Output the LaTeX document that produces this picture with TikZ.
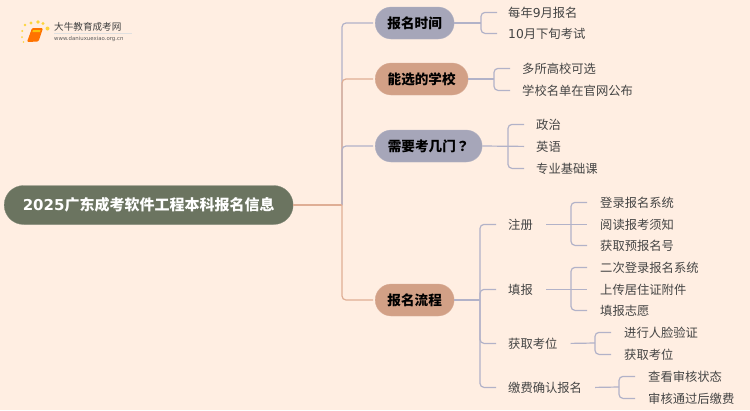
\documentclass[tikz,border=0pt]{standalone}
\usepackage{fontspec}
\setmainfont{Noto Sans CJK SC}
\newfontfamily\latf{DejaVu Sans}
\newfontfamily\tcf{Noto Sans CJK TC}
\definecolor{bgc}{HTML}{FFEEE2}
\definecolor{rootc}{HTML}{6B7460}
\definecolor{bluec}{HTML}{A6A6B9}
\definecolor{orgc}{HTML}{D2A086}
\definecolor{lnb}{HTML}{B2B2C8}
\definecolor{lno}{HTML}{DFAE95}
\definecolor{txtc}{HTML}{444444}
\tikzset{
  x=1bp,y=-1bp,
  leaf/.style={anchor=west,inner sep=0pt,yshift=-0.4bp,text=txtc,font=\fontsize{12.3bp}{14bp}\selectfont},
  pill/.style={rounded corners=16bp,minimum height=32bp,inner sep=0pt,anchor=west,text=black,line width=0.3bp,font=\fontsize{13.6bp}{16bp}\selectfont\bfseries},
  conb/.style={draw=lnb,line width=1.2bp,rounded corners=4bp},
  cono/.style={draw=lno,line width=1.2bp,rounded corners=4bp},
}
\begin{document}
\begin{tikzpicture}
\fill[bgc] (0,0) rectangle (750,410);
\useasboundingbox (0,0) rectangle (750,410);
% logo
\foreach \a/\b/\r in {25/25/1.4,31/23/1.7,38/22/1.8,43/23.5/1.7,47.5/28.5/2,22.3/31/1.1,22/37/1,23.5/42/.9}
  \fill[yellow!65!orange,opacity=.75] (\a,\b) circle (\r);
\fill[orange!90!red,rounded corners=1.2bp] (32,28) -- (43,28) -- (38.5,41.5) -- (27,42) -- cycle;
\fill[yellow!55!orange] (33,30) -- (40.5,30) -- (40,32) -- (32.4,32) -- cycle;
\draw[black!12,line width=.5bp] (54,33.5) -- (132,33.5);
\node[anchor=west,inner sep=0pt,text=black!75] (logot) at (54,27) {\fontsize{9.6bp}{11bp}\selectfont 大牛教育成考网};
\node[anchor=west,inner sep=0pt,text=black!65] (logou) at (54,39) {\latf\fontsize{5.4bp}{7bp}\selectfont www.daniuxuexiao.org.cn};
% root and branches
\node[fill=rootc,draw=rootc!85!white,line width=0.3bp,rounded corners=19.5bp,minimum width=289bp,minimum height=39bp,inner sep=0pt,anchor=west,text=white,font=\fontsize{15bp}{17bp}\selectfont\bfseries] (root) at (4,205) {{\latf 2025}广东成考软件工程本科报名信息};
\node[pill,fill=bluec,draw=bluec!85!white,minimum width=79bp] (b1) at (375,23) {报名时间};
\node[pill,fill=orgc,draw=orgc!85!white,minimum width=93bp] (b2) at (375,79) {能选的学校};
\node[pill,fill=bluec,draw=bluec!85!white,minimum width=107bp] (b3) at (375,146) {需要考几门{\tcf ？}};
\node[pill,fill=orgc,draw=orgc!85!white,minimum width=79bp] (b4) at (375,300) {报名流程};
% helper coordinates
\coordinate (sp) at (342,205);
\coordinate (k1) at (481,23);
\coordinate (k2) at (494,79);
\coordinate (k3) at (508,146);
\coordinate (k4) at (480,300);
\coordinate (k41) at (571,224);
\coordinate (k42) at (571,289);
\coordinate (k43) at (595,343);
\coordinate (k44) at (619,387);
% leaves
\node[leaf] (a1) at (508,12) {每年{\latf 9}月报名};
\node[leaf] (a2) at (508,33) {{\latf 10}月下旬考试};
\node[leaf] (c1) at (522,68) {多所高校可选};
\node[leaf] (c2) at (522,90) {学校名单在官网公布};
\node[leaf] (d1) at (536,124) {政治};
\node[leaf] (d2) at (536,146) {英语};
\node[leaf] (d3) at (536,168) {专业基础课};
\node[leaf] (e1) at (508,224) {注册};
\node[leaf] (e2) at (508,289) {填报};
\node[leaf] (e3) at (508,343) {获取考位};
\node[leaf] (e4) at (508,387) {缴费确认报名};
\node[leaf] (f1) at (600,202) {登录报名系统};
\node[leaf] (f2) at (600,224) {阅读报考须知};
\node[leaf] (f3) at (600,245) {获取预报名号};
\node[leaf] (g1) at (600,267) {二次登录报名系统};
\node[leaf] (g2) at (600,289) {上传居住证附件};
\node[leaf] (g3) at (600,310) {填报志愿};
\node[leaf] (h1) at (624,332) {进行人脸验证};
\node[leaf] (h2) at (624,354) {获取考位};
\node[leaf] (i1) at (648,376) {查看审核状态};
\node[leaf] (i2) at (648,398) {审核通过后缴费};
% main connectors: each later branch overlays the spine of the earlier
\draw[conb] (sp) |- ([xshift=-2bp]b1.west);
\draw[cono] (sp) |- ([xshift=-2bp]b2.west);
\draw[conb] (sp) |- ([xshift=-2bp]b3.west);
\draw[cono] (sp) |- ([xshift=-2bp]b4.west);
\draw[cono,rounded corners=0pt] (root.east) -- (sp);
% second level
\draw[conb] (b1.east) -- (k1);
\draw[conb] ([xshift=16bp]k1 |- a1.west) -| (k1) |- ([xshift=16bp]k1 |- a2.west);
\draw[conb] (b2.east) -- (k2);
\draw[conb] ([xshift=16bp]k2 |- c1.west) -| (k2) |- ([xshift=16bp]k2 |- c2.west);
\draw[conb] (b3.east) -- ([xshift=16bp]k3 |- d2.west);
\draw[conb] ([xshift=16bp]k3 |- d1.west) -| (k3) |- ([xshift=16bp]k3 |- d3.west);
\draw[conb] (b4.east) -- (k4);
\draw[conb] ([xshift=16bp]k4 |- e1.west) -| (k4) |- ([xshift=16bp]k4 |- e4.west);
\draw[conb] (k4) |- ([xshift=16bp]k4 |- e2.west);
\draw[conb] (k4) |- ([xshift=16bp]k4 |- e3.west);
% third level
\draw[conb] ([xshift=13bp]e1.east) -- ([xshift=16bp]k41 |- f2.west);
\draw[conb] ([xshift=16bp]k41 |- f1.west) -| (k41) |- ([xshift=16bp]k41 |- f3.west);
\draw[conb] ([xshift=13bp]e2.east) -- ([xshift=16bp]k42 |- g2.west);
\draw[conb] ([xshift=16bp]k42 |- g1.west) -| (k42) |- ([xshift=16bp]k42 |- g3.west);
\draw[conb] ([xshift=13bp]e3.east) -- (k43);
\draw[conb] ([xshift=16bp]k43 |- h1.west) -| (k43) |- ([xshift=16bp]k43 |- h2.west);
\draw[conb] ([xshift=13bp]e4.east) -- (k44);
\draw[conb] ([xshift=16bp]k44 |- i1.west) -| (k44) |- ([xshift=16bp]k44 |- i2.west);
\end{tikzpicture}
\end{document}
